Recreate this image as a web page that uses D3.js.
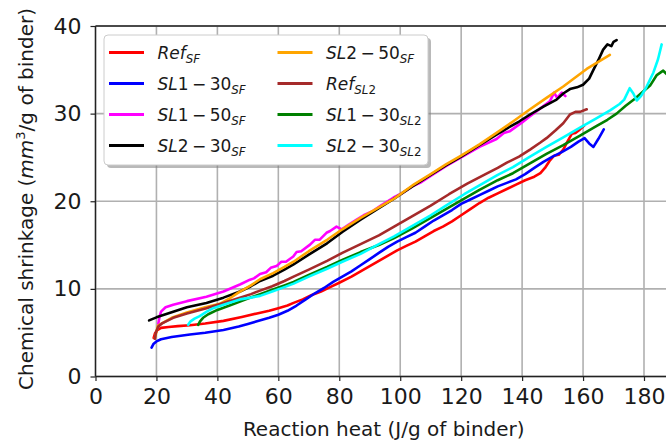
<!DOCTYPE html>
<html><head><meta charset="utf-8">
<script src="https://cdn.jsdelivr.net/npm/d3@7"></script>
<style>body{margin:0;background:#fff}svg{display:block}text{font-family:"DejaVu Sans",sans-serif;fill:#1a1a1a}</style>
</head><body><svg id="c" width="666" height="440"></svg>
<script>
// ---- data ----
const xTicks = [0,20,40,60,80,100,120,140,160,180];
const yTicks = [0,10,20,30,40];
const seriesLabels = ["Ref_{SF}","SL1-30_{SF}","SL1-50_{SF}","SL2-30_{SF}","SL2-50_{SF}","Ref_{SL2}","SL1-30_{SL2}","SL2-30_{SL2}"];
const seriesColors = ["red","blue","magenta","black","orange","brown","green","cyan"];

const refSF = [[19.1,4.4],[19.5,4.9],[20.3,5.3],[21.5,5.55],[24,5.65],[27,5.75],[31,5.85],[36,6.05],[42,6.35],[48,6.8],[53,7.2],[57,7.5],[60,7.8],[63,8.1],[65,8.4],[68,8.8],[71,9.3],[74,9.7],[77,10.2],[80,10.7],[84,11.4],[87,12.0],[90,12.6],[93,13.2],[96,13.8],[99,14.4],[102,14.9],[105,15.4],[108,16.0],[111,16.6],[114,17.1],[117,17.7],[120,18.4],[123,19.1],[126,19.8],[129,20.4],[132,20.9],[135,21.4],[138,21.9],[141,22.4],[144,22.8],[146,23.2],[147.5,23.8],[149,24.6],[150.5,25.2],[152,25.3],[153.5,25.9],[155,26.9],[156.3,27.7],[157.5,27.8],[159,28.2],[160.3,28.6]];
const sl130SF = [[18.4,3.3],[19,3.7],[20,4.0],[21.5,4.25],[25,4.5],[31,4.8],[36,5.0],[42,5.3],[47,5.7],[50,6.0],[53,6.3],[57,6.7],[60,7.05],[63,7.5],[66,8.1],[69,8.8],[72,9.5],[75,10.1],[78,10.8],[81,11.4],[84,12.0],[87,12.7],[90,13.4],[93,14.1],[96,14.8],[99,15.4],[102,15.9],[105,16.4],[108,17.1],[111,17.8],[114,18.4],[117,19.0],[120,19.7],[123,20.2],[126,20.7],[129,21.2],[132,21.7],[135,22.1],[138,22.5],[141,23.1],[144,23.8],[147,24.5],[150,25.1],[153,25.6],[156,26.2],[158.5,26.8],[160.5,27.2],[162,26.6],[163.4,26.2],[165,27.1],[166.8,28.2]];
const sl150SF = [[20.6,6.0],[21,6.8],[21.5,7.4],[23,7.9],[25.5,8.2],[30,8.6],[36.4,9.1],[42,9.7],[47.4,10.5],[50.7,11.05],[52,11.2],[54,11.7],[56,11.9],[57.5,12.4],[59.4,12.6],[61,13.1],[62.5,13.1],[64.9,13.7],[66,14.2],[67.5,14.3],[70.4,15.05],[72,15.6],[73.5,15.6],[75.8,16.4],[77,16.6],[79.1,17.1],[80.8,16.8],[83,17.3],[85.7,17.9],[88,18.4],[91.1,18.9],[94,19.6],[97.7,20.4],[101,21.0],[104,21.7],[107,22.2],[110,22.9],[115,24.0],[120,25.0],[126,26.2],[131.6,27.1],[134,27.8],[136,28.0],[140,29.0],[142.6,29.7],[146,30.6],[149.1,31.4],[150.5,32.4],[151.5,31.8],[153,32.4],[154.2,32.0]];
const sl230SF = [[17.6,6.4],[20,6.75],[25.5,7.4],[30,7.9],[36.4,8.4],[42,9.0],[47.4,9.7],[51,10.3],[54,10.9],[58.3,11.5],[62,12.2],[65,12.8],[70,13.9],[76,15.2],[81,16.5],[87,17.9],[93,19.2],[98,20.3],[104,21.7],[110,23.0],[115,24.1],[120,25.1],[126,26.4],[132,27.7],[139,29.1],[142.6,29.9],[147,30.8],[151.3,31.6],[153.5,32.3],[155.7,32.8],[158,33.0],[160,33.3],[162,34.0],[163.4,35.0],[165,36.1],[166.6,37.3],[168,37.9],[169.3,37.7],[170,38.2],[171,38.4]];
const sl250SF = [[19.5,4.4],[20.5,5.8],[25,6.7],[30,7.3],[36,7.9],[40.8,8.3],[44,8.9],[47,9.6],[51,10.4],[54,11.1],[58.3,11.8],[62,12.5],[65,13.1],[70,14.3],[76,15.6],[81,16.8],[87,18.1],[93,19.3],[98,20.3],[104,21.8],[110,23.1],[115,24.2],[120,25.2],[126,26.5],[131.6,27.8],[137,29.1],[142.6,30.5],[148,31.8],[153.5,33.1],[157,34.0],[161.2,35.1],[165,35.9],[168.8,36.7]];
const refSL2 = [[19.5,4.3],[19.8,5.0],[20.6,5.7],[22,6.1],[25.5,6.7],[30,7.2],[36.4,7.8],[42,8.4],[47.4,9.0],[51,9.4],[54,9.8],[58,10.3],[62,10.9],[65,11.4],[70,12.2],[76,13.2],[81,14.1],[87,15.1],[93,16.1],[98,17.1],[104,18.3],[110,19.5],[116,20.8],[122,22.0],[128,23.1],[132,23.8],[135,24.4],[139,25.1],[142.6,25.9],[146,26.7],[148,27.2],[151,28.1],[153.5,28.9],[155.7,29.9],[157.5,30.2],[159,30.2],[161.2,30.5]];
const sl130SL2 = [[33.7,5.9],[34.3,6.3],[35.3,6.7],[37,7.1],[40,7.6],[44,8.1],[47,8.5],[50,8.9],[54,9.4],[58,9.9],[62,10.4],[65,10.8],[70,11.6],[76,12.5],[81,13.3],[87,14.2],[93,15.0],[98,15.8],[104,16.9],[110,18.1],[115,19.1],[121,20.3],[126,21.3],[132,22.4],[137,23.2],[143,24.4],[148,25.4],[153.5,26.4],[159,27.5],[164.5,28.6],[168,29.3],[171,30.0],[174,30.9],[177,31.7],[180,32.6],[182,33.2],[184.2,34.4],[186.3,34.9],[187.5,34.5]];
const sl230SL2 = [[30.4,5.9],[31.2,6.3],[32.5,6.6],[34.2,6.9],[36.5,7.4],[38.6,7.8],[43,8.3],[47.4,8.8],[51,9.0],[54,9.2],[58,9.7],[62,10.2],[65,10.6],[70,11.4],[76,12.3],[81,13.1],[87,14.0],[93,15.1],[98,16.0],[104,17.2],[110,18.4],[115,19.5],[121,20.8],[126,21.8],[132,23.0],[137,23.9],[142.6,25.1],[148,26.2],[153.5,27.3],[159,28.4],[164.5,29.5],[169,30.4],[172,31.1],[173.5,31.6],[175.3,32.9],[176.5,32.3],[177.6,31.5],[179,32.0],[180.6,32.9],[183.1,34.7],[184.6,36.2],[185.8,37.9]];
const seriesData = [refSF, sl130SF, sl150SF, sl230SF, sl250SF, refSL2, sl130SL2, sl230SL2];

// ---- layout ----
const svg = d3.select("#c");
const x = d3.scaleLinear().domain([0,180]).range([95.5,644]);
const y = d3.scaleLinear().domain([0,40]).range([376.5,26]);
const xEnd = x.invert(672);
const TICK = 22;

// grid
const g = svg.append("g");
g.selectAll(".gx").data(xTicks).join("line")
  .attr("x1",d=>x(d)).attr("x2",d=>x(d)).attr("y1",y(0)).attr("y2",y(40))
  .attr("stroke","#b0b0b0").attr("stroke-width",1.6);
g.selectAll(".gy").data(yTicks).join("line")
  .attr("x1",x(0)).attr("x2",x(xEnd)).attr("y1",d=>y(d)).attr("y2",d=>y(d))
  .attr("stroke","#b0b0b0").attr("stroke-width",1.6);

// curves
const line = d3.line().x(d=>x(d[0])).y(d=>y(d[1]));
svg.append("g").selectAll("path").data(seriesData).join("path")
  .attr("d",line).attr("fill","none")
  .attr("stroke",(d,i)=>seriesColors[i]).attr("stroke-width",2.6)
  .attr("stroke-linejoin","round").attr("stroke-linecap","round");

// spines
const sp = svg.append("g").attr("stroke","#222").attr("stroke-width",1.4);
sp.append("line").attr("x1",x(0)).attr("x2",x(0)).attr("y1",y(0)).attr("y2",y(40));
sp.append("line").attr("x1",x(0)).attr("x2",x(xEnd)).attr("y1",y(0)).attr("y2",y(0));
sp.append("line").attr("x1",x(0)).attr("x2",x(xEnd)).attr("y1",y(40)).attr("y2",y(40));

// axes via d3
const ax = svg.append("g").attr("transform",`translate(0,${y(0)})`)
  .call(d3.axisBottom(x).tickValues(xTicks).tickSize(4.5).tickPadding(7).tickFormat(d3.format("d")));
const ay = svg.append("g").attr("transform",`translate(${x(0)},0)`)
  .call(d3.axisLeft(y).tickValues(yTicks).tickSize(5).tickPadding(9).tickFormat(d3.format("d")));
[ax,ay].forEach(a=>{
  a.select(".domain").remove();
  a.selectAll(".tick line").attr("stroke","#222").attr("stroke-width",1.2);
  a.selectAll(".tick text").attr("font-size",TICK).attr("font-family","DejaVu Sans").attr("fill","#1a1a1a");
});

// axis labels
svg.append("text").attr("x",(x(0)+672)/2).attr("y",436).attr("text-anchor","middle")
  .attr("font-size",20).text("Reaction heat (J/g of binder)");
const yl = svg.append("text").attr("transform","translate(33,199) rotate(-90)")
  .attr("text-anchor","middle").attr("font-size",20);
yl.append("tspan").text("Chemical shrinkage (");
yl.append("tspan").attr("font-style","italic").text("mm");
yl.append("tspan").attr("font-size",13).attr("dy",-8).text("3");
yl.append("tspan").attr("dy",8).text("/g of binder)");

// legend
const L = {x:104,y:35,w:324,h:130};
const lg = svg.append("g");
lg.append("rect").attr("x",L.x+3).attr("y",L.y+3).attr("width",L.w).attr("height",L.h).attr("rx",4)
  .attr("fill","#808080").attr("opacity",0.55);
lg.append("rect").attr("x",L.x).attr("y",L.y).attr("width",L.w).attr("height",L.h).attr("rx",4)
  .attr("fill","#fff").attr("stroke","#cccccc").attr("stroke-width",1);

const FS = 17;
function addRuns(t, str, size, sub){
  // letters italic, digits upright, '-' -> minus
  const runs = str.match(/[A-Za-z]+|[0-9]+|-/g);
  let first = true;
  runs.forEach(r=>{
    const ts = t.append("tspan").attr("font-size",size);
    if(sub && first){ ts.attr("dy",size*0.42); }
    first = false;
    if(r==="-"){ ts.attr("font-style","normal").text("\u2009\u2212\u2009"); }
    else if(/[0-9]/.test(r)){ ts.attr("font-style","normal").text(r); }
    else { ts.attr("font-style","italic").text(r); }
  });
}
seriesLabels.forEach((lab,i)=>{
  const col = Math.floor(i/4), row = i%4;
  const lx = L.x + 5 + col*168.5, ly = L.y + 17.5 + row*31;
  lg.append("line").attr("x1",lx).attr("x2",lx+35).attr("y1",ly).attr("y2",ly)
    .attr("stroke",seriesColors[i]).attr("stroke-width",2.8);
  const m = lab.match(/^(.*)_\{(.*)\}$/);
  const t = lg.append("text").attr("x",lx+48.5).attr("y",ly+6).attr("font-size",FS);
  addRuns(t, m[1], FS, false);
  addRuns(t, m[2], FS*0.7, true);
});
</script></body></html>
